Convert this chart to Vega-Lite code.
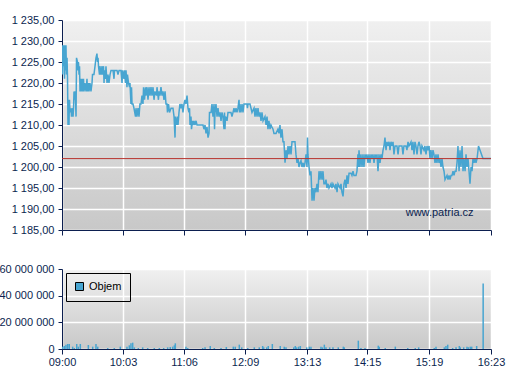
{
  "$schema": "https://vega.github.io/schema/vega-lite/v6.json",
  "padding": {"left": -2, "top": 14, "right": 10, "bottom": 5},
  "background": "white",
  "config": {
    "locale": {"number": {"decimal": ",", "thousands": " ", "grouping": [3], "currency": ["", ""]}},
    "font": "Liberation Sans",
    "view": {"stroke": null, "fill": {"gradient": "linear", "x1": 0, "y1": 0, "x2": 0, "y2": 1, "stops": [{"offset": 0, "color": "#f0f0f0"}, {"offset": 1, "color": "#c8c8c8"}]}},
    "axis": {"domainColor": "#0c1f50", "tickColor": "#0c1f50", "labelColor": "#0c1f50", "labelFontSize": 11, "labelFont": "Liberation Sans", "gridColor": "#ffffff", "gridWidth": 1.5, "gridOpacity": 1, "tickSize": 4, "labelPadding": 4, "domainWidth": 1, "title": null, "labelOverlap": false, "labelFlush": false},
    "axisY": {"labelOverlap": false, "labelSeparation": 0},
    "axisQuantitative": {"labelOverlap": false},
    "legend": {"orient": "top-left", "offset": 4, "padding": 8, "strokeColor": "black", "symbolType": "square", "symbolSize": 64, "symbolStrokeColor": "black", "symbolStrokeWidth": 1, "labelFontSize": 11, "labelColor": "black", "labelFont": "Liberation Sans", "labelOffset": 4, "title": null}
  },
  "datasets": {
    "price": [
      {"t":0.0,"p":1229},{"t":0.5,"p":1222},{"t":1.0,"p":1229},{"t":1.5,"p":1224},{"t":2.1,"p":1229},{"t":2.6,"p":1221},{"t":3.1,"p":1229},{"t":3.6,"p":1223},{"t":4.1,"p":1229},{"t":4.6,"p":1222},
      {"t":5.2,"p":1226},{"t":5.7,"p":1221},{"t":6.2,"p":1210},{"t":6.7,"p":1216},{"t":7.2,"p":1210},{"t":7.7,"p":1216},{"t":8.3,"p":1213},{"t":9.3,"p":1214},{"t":9.8,"p":1212},{"t":10.8,"p":1214},
      {"t":11.4,"p":1212},{"t":11.9,"p":1214},{"t":12.4,"p":1218},{"t":12.9,"p":1216},{"t":13.4,"p":1218},{"t":13.9,"p":1216},{"t":14.5,"p":1212},{"t":15.0,"p":1226},{"t":16.0,"p":1225},{"t":16.5,"p":1223},
      {"t":17.0,"p":1225},{"t":17.6,"p":1222},{"t":18.1,"p":1224},{"t":18.6,"p":1218},{"t":19.1,"p":1221},{"t":19.6,"p":1218},{"t":20.7,"p":1221},{"t":21.2,"p":1218},{"t":22.2,"p":1221},{"t":22.7,"p":1218},
      {"t":23.7,"p":1220},{"t":24.8,"p":1218},{"t":25.8,"p":1221},{"t":26.3,"p":1218},{"t":27.4,"p":1220},{"t":27.9,"p":1218},{"t":28.9,"p":1220},{"t":29.9,"p":1218},{"t":31.0,"p":1220},{"t":31.5,"p":1222},
      {"t":33.0,"p":1222},{"t":34.1,"p":1224},{"t":35.1,"p":1226},{"t":36.1,"p":1227},{"t":36.7,"p":1225},{"t":37.2,"p":1226},{"t":37.7,"p":1224},{"t":38.7,"p":1222},{"t":39.2,"p":1224},{"t":40.3,"p":1222},
      {"t":41.3,"p":1224},{"t":41.8,"p":1222},{"t":42.9,"p":1224},{"t":43.4,"p":1220},{"t":43.9,"p":1223},{"t":44.9,"p":1221},{"t":45.4,"p":1224},{"t":46.5,"p":1220},{"t":47.5,"p":1222},{"t":48.5,"p":1220},
      {"t":49.6,"p":1222},{"t":50.6,"p":1223},{"t":52.7,"p":1223},{"t":53.7,"p":1221},{"t":54.2,"p":1223},{"t":56.8,"p":1223},{"t":57.8,"p":1222},{"t":58.9,"p":1223},{"t":60.9,"p":1223},{"t":62.0,"p":1220},
      {"t":62.5,"p":1223},{"t":64.0,"p":1221},{"t":64.5,"p":1223},{"t":65.6,"p":1220},{"t":66.1,"p":1223},{"t":67.1,"p":1219},{"t":67.6,"p":1222},{"t":68.7,"p":1220},{"t":69.7,"p":1219},{"t":70.2,"p":1220},
      {"t":71.2,"p":1215},{"t":71.8,"p":1219},{"t":72.3,"p":1215},{"t":73.3,"p":1215},{"t":74.3,"p":1214},{"t":75.9,"p":1212},{"t":76.4,"p":1214},{"t":77.4,"p":1212},{"t":78.5,"p":1214},{"t":79.5,"p":1212},
      {"t":80.5,"p":1215},{"t":81.6,"p":1215},{"t":82.6,"p":1217},{"t":83.6,"p":1215},{"t":84.2,"p":1219},{"t":85.2,"p":1216},{"t":86.2,"p":1219},{"t":86.7,"p":1217},{"t":87.8,"p":1219},{"t":88.8,"p":1216},
      {"t":89.8,"p":1219},{"t":90.9,"p":1217},{"t":91.9,"p":1219},{"t":92.9,"p":1217},{"t":94.0,"p":1219},{"t":95.0,"p":1216},{"t":96.0,"p":1218},{"t":97.6,"p":1217},{"t":98.1,"p":1219},{"t":99.6,"p":1216},
      {"t":100.2,"p":1218},{"t":101.2,"p":1217},{"t":102.2,"p":1219},{"t":103.3,"p":1217},{"t":104.3,"p":1218},{"t":105.3,"p":1216},{"t":106.4,"p":1218},{"t":107.4,"p":1215},{"t":108.4,"p":1215},{"t":108.9,"p":1213},
      {"t":110.0,"p":1215},{"t":111.0,"p":1213},{"t":112.6,"p":1214},{"t":114.6,"p":1214},{"t":115.7,"p":1212},{"t":116.7,"p":1207},{"t":117.2,"p":1212},{"t":118.2,"p":1210},{"t":119.3,"p":1212},{"t":119.8,"p":1210},
      {"t":120.8,"p":1213},{"t":121.8,"p":1215},{"t":122.9,"p":1214},{"t":123.9,"p":1215},{"t":124.9,"p":1213},{"t":126.0,"p":1215},{"t":127.0,"p":1216},{"t":128.0,"p":1215},{"t":129.1,"p":1217},{"t":130.1,"p":1214},
      {"t":131.1,"p":1213},{"t":131.7,"p":1214},{"t":132.2,"p":1210},{"t":133.2,"p":1212},{"t":133.7,"p":1209},{"t":134.8,"p":1211},{"t":135.3,"p":1210},{"t":136.3,"p":1211},{"t":137.3,"p":1210},{"t":138.4,"p":1211},
      {"t":139.4,"p":1210},{"t":140.4,"p":1210},{"t":143.5,"p":1210},{"t":145.6,"p":1210},{"t":146.6,"p":1209},{"t":147.7,"p":1210},{"t":148.7,"p":1208},{"t":149.7,"p":1209.5},{"t":150.8,"p":1207},{"t":151.8,"p":1208},
      {"t":152.3,"p":1213},{"t":153.9,"p":1213},{"t":154.9,"p":1215},{"t":155.9,"p":1212},{"t":157.0,"p":1215},{"t":157.5,"p":1209},{"t":158.0,"p":1213},{"t":159.0,"p":1215},{"t":160.1,"p":1212},{"t":161.1,"p":1214},
      {"t":162.1,"p":1212},{"t":163.2,"p":1213},{"t":164.2,"p":1211},{"t":165.2,"p":1213},{"t":166.2,"p":1212},{"t":167.3,"p":1209},{"t":167.8,"p":1213},{"t":168.3,"p":1209},{"t":168.8,"p":1212},{"t":170.4,"p":1211},
      {"t":171.4,"p":1213},{"t":174.5,"p":1213},{"t":175.5,"p":1212},{"t":176.6,"p":1213},{"t":177.6,"p":1214},{"t":178.6,"p":1213},{"t":179.7,"p":1214},{"t":180.7,"p":1213},{"t":181.7,"p":1214},{"t":182.8,"p":1216},
      {"t":183.3,"p":1213},{"t":183.8,"p":1215},{"t":184.8,"p":1213},{"t":185.9,"p":1215},{"t":186.9,"p":1213},{"t":187.9,"p":1215},{"t":191.0,"p":1215},{"t":191.5,"p":1214},{"t":192.1,"p":1215},{"t":194.1,"p":1215},
      {"t":195.2,"p":1214},{"t":196.2,"p":1213},{"t":198.3,"p":1214},{"t":199.3,"p":1212},{"t":200.3,"p":1214},{"t":201.4,"p":1212},{"t":202.4,"p":1214},{"t":203.4,"p":1212},{"t":204.5,"p":1213},{"t":205.5,"p":1211},
      {"t":206.5,"p":1213},{"t":207.6,"p":1211},{"t":209.6,"p":1212},{"t":210.7,"p":1210},{"t":211.7,"p":1212},{"t":212.7,"p":1209},{"t":213.7,"p":1211},{"t":214.8,"p":1209},{"t":215.8,"p":1210},{"t":216.8,"p":1209.5},
      {"t":217.9,"p":1209},{"t":218.9,"p":1208},{"t":221.0,"p":1208},{"t":223.0,"p":1209},{"t":224.1,"p":1208},{"t":225.1,"p":1210},{"t":226.1,"p":1207},{"t":227.2,"p":1209},{"t":228.2,"p":1206},{"t":229.2,"p":1206},
      {"t":230.3,"p":1201},{"t":231.3,"p":1204},{"t":232.3,"p":1202},{"t":233.4,"p":1205},{"t":234.4,"p":1203},{"t":235.4,"p":1205},{"t":236.5,"p":1203},{"t":237.5,"p":1206},{"t":240.6,"p":1206},{"t":241.6,"p":1203},
      {"t":242.7,"p":1201},{"t":243.7,"p":1202},{"t":244.7,"p":1200},{"t":245.8,"p":1201},{"t":246.8,"p":1201.5},{"t":247.8,"p":1200},{"t":248.9,"p":1201},{"t":249.9,"p":1200},{"t":250.9,"p":1201},{"t":252.0,"p":1203},
      {"t":253.0,"p":1200},{"t":253.5,"p":1207},{"t":254.0,"p":1203},{"t":255.1,"p":1200},{"t":256.1,"p":1198},{"t":257.1,"p":1199},{"t":258.2,"p":1192},{"t":259.2,"p":1195},{"t":260.2,"p":1192},{"t":261.2,"p":1195},
      {"t":262.3,"p":1194},{"t":263.3,"p":1196},{"t":264.3,"p":1194},{"t":265.4,"p":1199},{"t":266.4,"p":1197},{"t":267.4,"p":1199},{"t":268.5,"p":1197},{"t":269.5,"p":1199},{"t":270.5,"p":1196},{"t":271.6,"p":1196},
      {"t":272.6,"p":1197},{"t":273.6,"p":1195},{"t":274.7,"p":1196},{"t":275.7,"p":1195},{"t":277.8,"p":1196},{"t":278.8,"p":1195},{"t":279.8,"p":1196},{"t":281.9,"p":1195},{"t":282.9,"p":1196},{"t":284.0,"p":1194},
      {"t":285.0,"p":1196},{"t":287.1,"p":1195},{"t":288.1,"p":1196},{"t":289.1,"p":1194},{"t":290.2,"p":1193},{"t":291.2,"p":1196},{"t":292.2,"p":1197},{"t":293.3,"p":1195},{"t":294.3,"p":1198},{"t":295.3,"p":1196},
      {"t":296.4,"p":1198.5},{"t":298.4,"p":1198.5},{"t":299.4,"p":1198},{"t":300.5,"p":1199},{"t":301.5,"p":1198},{"t":303.6,"p":1198},{"t":304.6,"p":1199},{"t":305.6,"p":1203},{"t":306.2,"p":1200},{"t":306.7,"p":1204},
      {"t":307.7,"p":1200},{"t":308.7,"p":1203},{"t":309.8,"p":1200},{"t":310.8,"p":1203},{"t":311.8,"p":1200},{"t":312.9,"p":1203},{"t":313.9,"p":1202},{"t":314.9,"p":1203},{"t":316.0,"p":1201},{"t":317.0,"p":1203},
      {"t":318.0,"p":1201},{"t":319.1,"p":1203},{"t":320.1,"p":1202},{"t":321.1,"p":1203},{"t":322.2,"p":1201},{"t":323.2,"p":1203},{"t":324.2,"p":1202},{"t":325.3,"p":1203},{"t":326.3,"p":1199},{"t":327.3,"p":1203},
      {"t":328.4,"p":1201},{"t":329.4,"p":1203},{"t":330.4,"p":1202},{"t":331.5,"p":1204},{"t":332.5,"p":1205},{"t":333.5,"p":1207},{"t":334.6,"p":1204},{"t":335.6,"p":1206},{"t":336.6,"p":1205},{"t":337.7,"p":1206},
      {"t":338.7,"p":1204},{"t":339.7,"p":1206},{"t":340.8,"p":1205},{"t":341.8,"p":1206},{"t":342.8,"p":1203},{"t":343.9,"p":1205},{"t":345.9,"p":1205},{"t":347.0,"p":1203},{"t":348.0,"p":1205},{"t":351.1,"p":1205},
      {"t":352.1,"p":1203},{"t":353.1,"p":1205},{"t":355.2,"p":1205},{"t":356.2,"p":1204},{"t":357.3,"p":1206},{"t":358.3,"p":1205},{"t":360.4,"p":1206},{"t":361.4,"p":1204},{"t":362.4,"p":1206},{"t":363.5,"p":1203},
      {"t":364.5,"p":1206},{"t":365.5,"p":1205},{"t":366.6,"p":1203},{"t":367.6,"p":1205},{"t":368.6,"p":1206},{"t":369.7,"p":1205},{"t":370.7,"p":1203},{"t":371.7,"p":1205},{"t":373.8,"p":1204},{"t":374.8,"p":1205},
      {"t":375.9,"p":1203},{"t":376.9,"p":1205},{"t":377.9,"p":1204},{"t":379.0,"p":1205},{"t":380.0,"p":1202},{"t":381.0,"p":1204},{"t":382.1,"p":1202},{"t":383.1,"p":1204},{"t":384.1,"p":1203},{"t":385.2,"p":1201},
      {"t":386.2,"p":1203},{"t":387.2,"p":1201},{"t":388.3,"p":1203},{"t":389.3,"p":1201},{"t":390.3,"p":1202},{"t":391.4,"p":1200},{"t":392.4,"p":1202},{"t":393.4,"p":1200},{"t":394.5,"p":1199},{"t":395.5,"p":1197},
      {"t":397.6,"p":1198},{"t":398.6,"p":1197},{"t":399.6,"p":1198},{"t":400.7,"p":1197},{"t":401.7,"p":1198},{"t":402.7,"p":1198},{"t":403.8,"p":1199},{"t":404.8,"p":1198},{"t":405.8,"p":1199},{"t":406.9,"p":1199},
      {"t":407.9,"p":1201},{"t":408.9,"p":1205},{"t":410.0,"p":1199},{"t":411.0,"p":1204},{"t":412.0,"p":1200},{"t":413.1,"p":1205},{"t":414.1,"p":1199},{"t":415.1,"p":1202},{"t":416.2,"p":1199},{"t":417.2,"p":1203},
      {"t":418.2,"p":1200},{"t":419.3,"p":1202},{"t":420.3,"p":1199},{"t":421.3,"p":1196},{"t":422.4,"p":1200},{"t":423.4,"p":1199},{"t":424.4,"p":1202},{"t":425.5,"p":1201},{"t":426.5,"p":1202},{"t":427.5,"p":1201},
      {"t":428.6,"p":1202},{"t":430.1,"p":1205},{"t":434.7,"p":1202},{"t":443.0,"p":1202}
    ],
    "vol": [
      {"t":0.7,"v":1750000},{"t":2.4,"v":2250000},{"t":4.1,"v":3250000},{"t":5.9,"v":3750000},{"t":7.5,"v":3750000},{"t":11.0,"v":1750000},{"t":12.7,"v":750000},{"t":15.2,"v":3750000},{"t":16.8,"v":1750000},{"t":18.9,"v":3750000},
      {"t":27.2,"v":3000000},{"t":31.7,"v":1750000},{"t":35.1,"v":3750000},{"t":36.9,"v":1750000},{"t":47.2,"v":750000},{"t":54.0,"v":750000},{"t":60.2,"v":1750000},{"t":67.1,"v":1750000},{"t":69.5,"v":2750000},{"t":71.2,"v":4250000},
      {"t":73.0,"v":4750000},{"t":74.7,"v":1250000},{"t":78.8,"v":750000},{"t":83.3,"v":1250000},{"t":88.5,"v":750000},{"t":95.3,"v":750000},{"t":100.5,"v":750000},{"t":105.0,"v":750000},{"t":109.1,"v":1250000},{"t":111.8,"v":1500000},
      {"t":114.3,"v":1750000},{"t":116.0,"v":2750000},{"t":117.0,"v":4250000},{"t":128.0,"v":1750000},{"t":129.8,"v":750000},{"t":145.3,"v":750000},{"t":147.7,"v":1250000},{"t":153.1,"v":2250000},{"t":157.3,"v":750000},{"t":164.2,"v":750000},
      {"t":169.7,"v":1500000},{"t":176.9,"v":1750000},{"t":178.9,"v":1750000},{"t":183.1,"v":3250000},{"t":185.6,"v":1250000},{"t":191.8,"v":750000},{"t":198.6,"v":1250000},{"t":203.7,"v":1250000},{"t":207.2,"v":2250000},{"t":208.3,"v":1250000},
      {"t":211.4,"v":1250000},{"t":213.0,"v":2250000},{"t":217.2,"v":3750000},{"t":225.4,"v":2250000},{"t":229.5,"v":1750000},{"t":231.3,"v":1250000},{"t":239.3,"v":1250000},{"t":240.9,"v":2250000},{"t":242.4,"v":1250000},{"t":244.4,"v":1750000},
      {"t":246.1,"v":2250000},{"t":252.7,"v":1250000},{"t":255.4,"v":1750000},{"t":257.1,"v":1750000},{"t":267.4,"v":1750000},{"t":268.8,"v":1250000},{"t":270.9,"v":3250000},{"t":272.6,"v":1250000},{"t":276.4,"v":1250000},{"t":279.8,"v":1250000},
      {"t":285.3,"v":1250000},{"t":290.5,"v":1750000},{"t":291.5,"v":1250000},{"t":306.0,"v":6250000},{"t":308.7,"v":750000},{"t":312.9,"v":750000},{"t":326.6,"v":2500000},{"t":327.6,"v":1750000},{"t":333.8,"v":750000},{"t":344.2,"v":1750000},
      {"t":357.0,"v":750000},{"t":364.8,"v":750000},{"t":368.3,"v":1250000},{"t":384.4,"v":750000},{"t":386.2,"v":1750000},{"t":394.8,"v":1250000},{"t":396.5,"v":2250000},{"t":398.3,"v":3250000},{"t":403.4,"v":750000},{"t":406.9,"v":1250000},
      {"t":410.3,"v":2250000},{"t":411.3,"v":1250000},{"t":414.8,"v":1250000},{"t":418.2,"v":1750000},{"t":419.5,"v":1250000},{"t":421.6,"v":1750000},{"t":423.1,"v":1750000},{"t":428.2,"v":2250000},{"t":434.9,"v":49200000}
    ]
  },
  "spacing": 39,
  "bounds": "flush",
  "resolve": {"legend": {"color": "independent"}, "scale": {"color": "independent"}},
  "vconcat": [
    {
      "width": 429,
      "height": 210,
      "encoding": {
        "y": {"type": "quantitative", "scale": {"domain": [1185, 1235], "nice": false, "zero": false},
              "axis": {"values": [1185, 1190, 1195, 1200, 1205, 1210, 1215, 1220, 1225, 1230, 1235], "format": ",.2f", "grid": true, "labelOverlap": false, "labelBound": false}}
      },
      "layer": [
        {
          "data": {"name": "price"},
          "mark": {"type": "line", "color": "#47a5d1", "strokeWidth": 1.5, "clip": true},
          "encoding": {
            "x": {"field": "t", "type": "quantitative", "scale": {"domain": [0, 443], "nice": false, "zero": false, "padding": 0},
                  "axis": {"values": [0, 63, 126, 189, 253, 315, 379, 443], "labels": false, "tickSize": 5, "grid": true}},
            "y": {"field": "p", "type": "quantitative"}
          }
        },
        {
          "data": {"values": [{"ref": 1202}]},
          "mark": {"type": "rule", "color": "#b8332e", "strokeWidth": 1},
          "encoding": {"y": {"field": "ref", "type": "quantitative"}}
        },
        {
          "data": {"values": [{"t": 425, "p": 1189, "label": "www.patria.cz"}]},
          "mark": {"type": "text", "align": "right", "baseline": "middle", "fontSize": 11, "font": "Liberation Sans", "color": "#0c1f50"},
          "encoding": {"x": {"field": "t", "type": "quantitative"}, "y": {"field": "p", "type": "quantitative"}, "text": {"field": "label"}}
        }
      ]
    },
    {
      "width": 429,
      "height": 80,
      "data": {"name": "vol"},
      "mark": {"type": "bar", "size": 1.5},
      "encoding": {
        "x": {"field": "t", "type": "quantitative", "scale": {"domain": [0, 443], "nice": false, "zero": false, "padding": 0},
              "axis": {"values": [0, 63, 126, 189, 253, 315, 379, 443], "tickSize": 5, "grid": true, "labelPadding": 2, "labelFlush": false,
                       "labelExpr": "timeFormat(datetime(2000, 0, 1, 9, datum.value, 0), '%H:%M')"}},
        "y": {"field": "v", "type": "quantitative", "scale": {"domain": [0, 60000000], "nice": false},
              "axis": {"values": [0, 20000000, 40000000, 60000000], "format": ",.0f", "grid": true, "labelOverlap": false}},
        "color": {"datum": "Objem", "scale": {"range": ["#47a5d1"]},
                  "legend": {"orient": "top-left", "encode": {"symbols": {"update": {"stroke": {"value": "black"}, "strokeWidth": {"value": 1}}}}}}
      }
    }
  ]
}
